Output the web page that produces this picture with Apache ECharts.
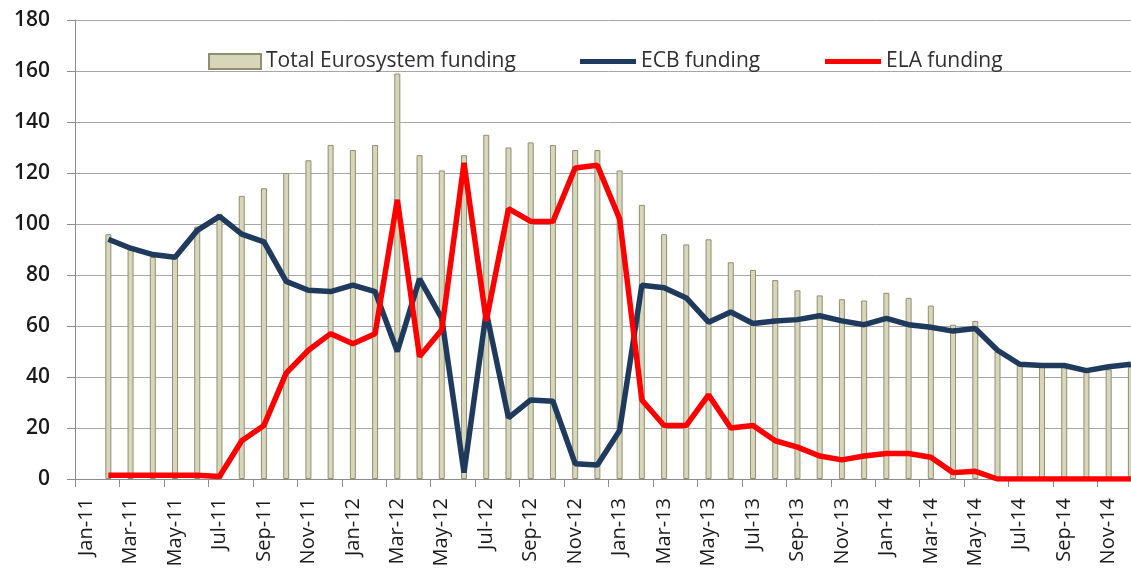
<!DOCTYPE html>
<html>
<head>
<meta charset="utf-8">
<script src="https://cdn.jsdelivr.net/npm/echarts@6/dist/echarts.min.js"></script>
<style>html,body{margin:0;padding:0;background:#fff;overflow:hidden}#c{width:1142px;height:576px}</style>
</head>
<body>
<div id="c"></div>
<script>
const categories = ['Jan-11','Feb-11','Mar-11','Apr-11','May-11','Jun-11','Jul-11','Aug-11','Sep-11','Oct-11','Nov-11','Dec-11',
  'Jan-12','Feb-12','Mar-12','Apr-12','May-12','Jun-12','Jul-12','Aug-12','Sep-12','Oct-12','Nov-12','Dec-12',
  'Jan-13','Feb-13','Mar-13','Apr-13','May-13','Jun-13','Jul-13','Aug-13','Sep-13','Oct-13','Nov-13','Dec-13',
  'Jan-14','Feb-14','Mar-14','Apr-14','May-14','Jun-14','Jul-14','Aug-14','Sep-14','Oct-14','Nov-14','Dec-14'];
const totalFunding = [null,96,91,87,87,99,104,111,114,120,125,131,129,131,159,127,121,127,135,130,132,131,129,129,
  121,107.5,96,92,94,85,82,78,74,72,70.5,70,73,71,68,60.5,62,50,45,45,44,42,43,44];
const ecbFunding = [null,94,90.5,88,87,97.5,103,96,93,77.5,74,73.5,76,73.5,50,78.5,63,2.5,65.5,24,31,30.5,6,5.5,
  19,76,75,71,61.5,65.5,61,62,62.5,64,62,60.5,63,60.5,59.5,58,59,50.5,45,44.5,44.5,42.5,44,45];
const elaFunding = [null,1.5,1.5,1.5,1.5,1.5,1,15,21,41.5,50.5,57,53,57,109.5,48,58.5,124,62,106,101,101,122,123,
  102,31,21,21,33,20,21,15,12.5,9,7.5,9,10,10,8.5,2.5,3,0,0,0,0,0,0,0];
const yTicks = [0,20,40,60,80,100,120,140,160,180];

const chart = echarts.init(document.getElementById('c'));
const txt = '#1a1a1a';
const legendText = {fontFamily:'Open Sans', fontSize:21, color:'#303030'};
const lineIcon = 'path://M0,5 L56,5 L56,10 L0,10 Z';
chart.setOption({
  animation:false,
  backgroundColor:'#ffffff',
  grid:{left:75, right:0, top:20, bottom:97, containLabel:false},
  legend:[
    {left:203, top:46, itemWidth:52, itemHeight:15, textStyle:legendText,
     data:[{name:'Total Eurosystem funding', icon:'rect'}]},
    {left:575, top:46, itemWidth:56, itemHeight:15, itemGap:0, textStyle:legendText,
     data:[{name:'ECB funding', icon:lineIcon}]},
    {left:820, top:46, itemWidth:56, itemHeight:15, textStyle:legendText,
     data:[{name:'ELA funding', icon:lineIcon}]}
  ],
  xAxis:{
    type:'category', data:categories, boundaryGap:true,
    axisLine:{lineStyle:{color:'#8c8c8c', width:1}},
    axisTick:{show:true, interval:1, length:8, lineStyle:{color:'#8c8c8c'}},
    axisLabel:{interval:1, rotate:90, margin:19, fontFamily:'Open Sans', fontSize:20, color:txt}
  },
  yAxis:{
    type:'value', min:yTicks[0], max:yTicks[yTicks.length-1], interval:20,
    axisLine:{show:true, lineStyle:{color:'#8c8c8c'}},
    axisTick:{show:true, length:8, lineStyle:{color:'#8c8c8c'}},
    axisLabel:{margin:25, fontFamily:'Open Sans', fontSize:21, fontWeight:600, color:txt},
    splitLine:{lineStyle:{color:'#a6a6a6', width:1}}
  },
  series:[
    {name:'Total Eurosystem funding', type:'bar', data:totalFunding, barWidth:6,
     itemStyle:{color:'#d7d6ba', borderColor:'#8f8f70', borderWidth:1}},
    {name:'ECB funding', type:'line', data:ecbFunding, symbol:'none',
     lineStyle:{color:'#1f3a5c', width:5.5}, itemStyle:{color:'#1f3a5c'}},
    {name:'ELA funding', type:'line', data:elaFunding, symbol:'none',
     lineStyle:{color:'#ff0000', width:5.5}, itemStyle:{color:'#ff0000'}}
  ]
});
</script>
</body>
</html>
